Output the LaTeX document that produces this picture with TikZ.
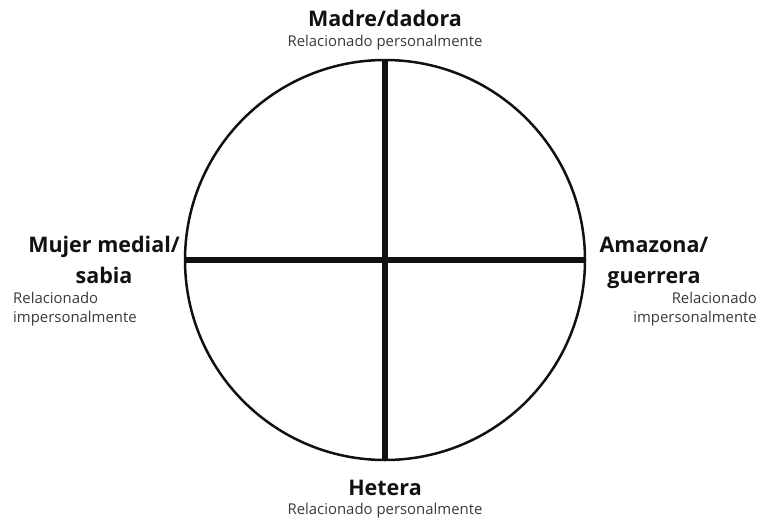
\documentclass[tikz,border=0pt]{standalone}
\usepackage{fontspec}
\setmainfont{Open Sans}
\usetikzlibrary{positioning}
\definecolor{tinta}{HTML}{111111}
\definecolor{gris}{HTML}{3A3A3A}
\tikzset{
  rueda/.style={circle,draw=tinta,line width=2.5pt,minimum size=400pt,inner sep=0pt},
  eje/.style={draw=tinta,line width=5.5pt},
  titulo/.style={font=\fontsize{21.5}{31}\selectfont\bfseries,text=tinta,align=center,inner sep=0pt,anchor=base},
  nota/.style={font=\fontsize{14.9}{19}\selectfont,text=gris,inner sep=0pt,anchor=base}
}
\begin{document}
\begin{tikzpicture}[x=1pt,y=-1pt]
  \useasboundingbox (0,0) rectangle (760,520);
  \node[rueda] (rueda) at (385,260) {};
  \draw[eje] (rueda.north) -- (rueda.south);
  \draw[eje] (rueda.west) -- (rueda.east);
  % arriba
  \node[titulo] (madre) at (385,26) {Madre/dadora};
  \node[nota] (madrenota) at (385,46) {Relacionado personalmente};
  % izquierda
  \node[titulo] (mujer) at (104,283) {Mujer medial/\\sabia};
  \node[nota,align=left,anchor=base west] (mujernota) at (13,322) {Relacionado\\impersonalmente};
  % derecha
  \node[titulo] (amazona) at (654,283) {Amazona/\\guerrera};
  \node[nota,align=right,anchor=base east] (amazonanota) at (757,322) {Relacionado\\impersonalmente};
  % abajo
  \node[titulo] (hetera) at (385,495) {Hetera};
  \node[nota] (heteranota) at (385,514) {Relacionado personalmente};
\end{tikzpicture}
\end{document}
